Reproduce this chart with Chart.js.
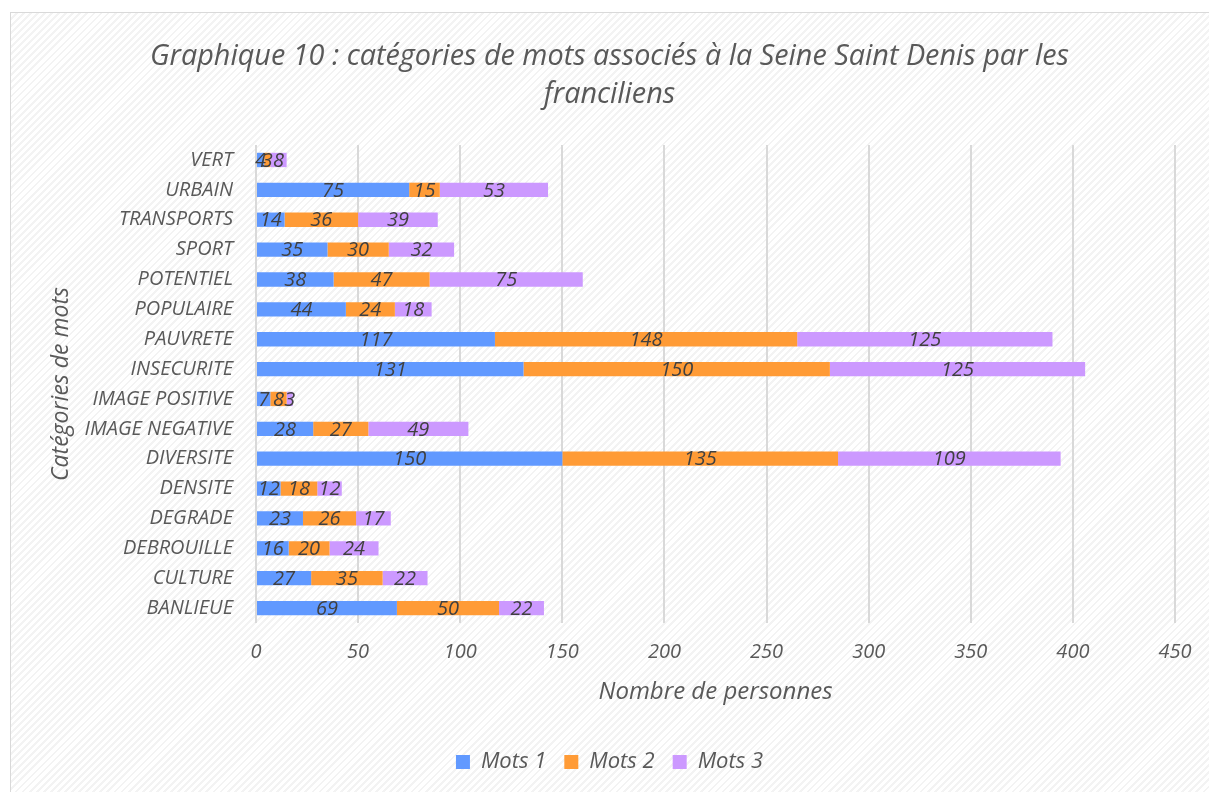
<!DOCTYPE html>
<html>
<head>
<meta charset="utf-8">
<script src="https://cdn.jsdelivr.net/npm/chart.js@4.4.0/dist/chart.umd.min.js"></script>
<style>
  body { margin: 0; background: #fff; }
  #frame {
    position: absolute; left: 10px; top: 12px; width: 1210px; height: 790px;
    border: 1px solid #d9d9d9;
    background: repeating-linear-gradient(135deg, #ffffff 0px, #ffffff 3px, #f3f3f3 3px, #f3f3f3 5px);
  }
  #wrap { position: absolute; left: 0; top: 0; width: 1209px; height: 792px; }
</style>
</head>
<body>
<div id="frame"></div>
<div id="wrap"><canvas id="chart"></canvas></div>
<script>
'use strict';

// categories listed top to bottom as in the picture
const categories = ['VERT', 'URBAIN', 'TRANSPORTS', 'SPORT', 'POTENTIEL', 'POPULAIRE', 'PAUVRETE',
  'INSECURITE', 'IMAGE POSITIVE', 'IMAGE NEGATIVE', 'DIVERSITE', 'DENSITE', 'DEGRADE',
  'DEBROUILLE', 'CULTURE', 'BANLIEUE'];
const mots1 = [4, 75, 14, 35, 38, 44, 117, 131, 7, 28, 150, 12, 23, 16, 27, 69];
const mots2 = [3, 15, 36, 30, 47, 24, 148, 150, 8, 27, 135, 18, 26, 20, 35, 50];
const mots3 = [8, 53, 39, 32, 75, 18, 125, 125, 3, 49, 109, 12, 17, 24, 22, 22];
const xTicks = [0, 50, 100, 150, 200, 250, 300, 350, 400, 450];

const grey = '#595959';
const fontName = "'Open Sans', sans-serif";

// draws the value in the middle of each bar piece
const barLabels = {
  id: 'barLabels',
  afterDatasetsDraw(chart) {
    let ctx = chart.ctx;
    ctx.save();
    ctx.font = 'italic 20px ' + fontName;
    ctx.fillStyle = '#404040';
    ctx.textAlign = 'center';
    ctx.textBaseline = 'middle';
    chart.data.datasets.forEach((ds, i) => {
      let meta = chart.getDatasetMeta(i);
      meta.data.forEach((bar, j) => {
        ctx.fillText(String(ds.data[j]), (bar.x + bar.base) / 2, bar.y + 1);
      });
    });
    ctx.restore();
  }
};

let ctx = document.getElementById('chart').getContext('2d');
let myChart = new Chart(ctx, {
  type: 'bar',
  data: {
    labels: categories,
    datasets: [
      { label: 'Mots 1', data: mots1, backgroundColor: '#6199ff' },
      { label: 'Mots 2', data: mots2, backgroundColor: '#ff9b36' },
      { label: 'Mots 3', data: mots3, backgroundColor: '#cc99ff' }
    ]
  },
  options: {
    indexAxis: 'y',
    responsive: true,
    maintainAspectRatio: false,
    animation: false,
    datasets: { bar: { categoryPercentage: 1, barPercentage: 0.48 } },
    layout: { padding: { left: 44, right: 34, top: 0, bottom: 9 } },
    plugins: {
      title: {
        display: true,
        text: ['Graphique 10 : catégories de mots associés à la Seine Saint Denis par les', 'franciliens'],
        color: grey,
        font: { family: fontName, size: 28.8, style: 'italic', weight: 'normal', lineHeight: 1.32 },
        padding: { top: 38, bottom: 31 }
      },
      legend: {
        position: 'bottom',
        labels: {
          color: grey,
          font: { family: fontName, size: 22, style: 'italic' },
          boxWidth: 14, boxHeight: 14, padding: 18
        }
      },
      tooltip: { enabled: false }
    },
    scales: {
      x: {
        stacked: true,
        min: 0, max: 450,
        afterBuildTicks: (scale) => { scale.ticks = xTicks.map(v => ({ value: v })); },
        afterFit: (scale) => { scale.height = 110; },
        grid: { color: '#d9d9d9', lineWidth: 2, drawTicks: false },
        border: { display: false },
        ticks: { color: grey, padding: 17, font: { family: fontName, size: 20, style: 'italic' } },
        title: {
          display: true, text: 'Nombre de personnes', color: grey,
          font: { family: fontName, size: 24, style: 'italic' }, padding: { top: 4, bottom: 26 }
        }
      },
      y: {
        stacked: true,
        afterFit: (scale) => { scale.width = 212; },
        grid: { display: false },
        border: { display: false },
        ticks: { color: grey, padding: 15, font: { family: fontName, size: 20, style: 'italic' } },
        title: {
          display: true, text: 'Catégories de mots', color: grey,
          font: { family: fontName, size: 23, style: 'italic' }
        }
      }
    }
  },
  plugins: [barLabels]
});
</script>
</body>
</html>
